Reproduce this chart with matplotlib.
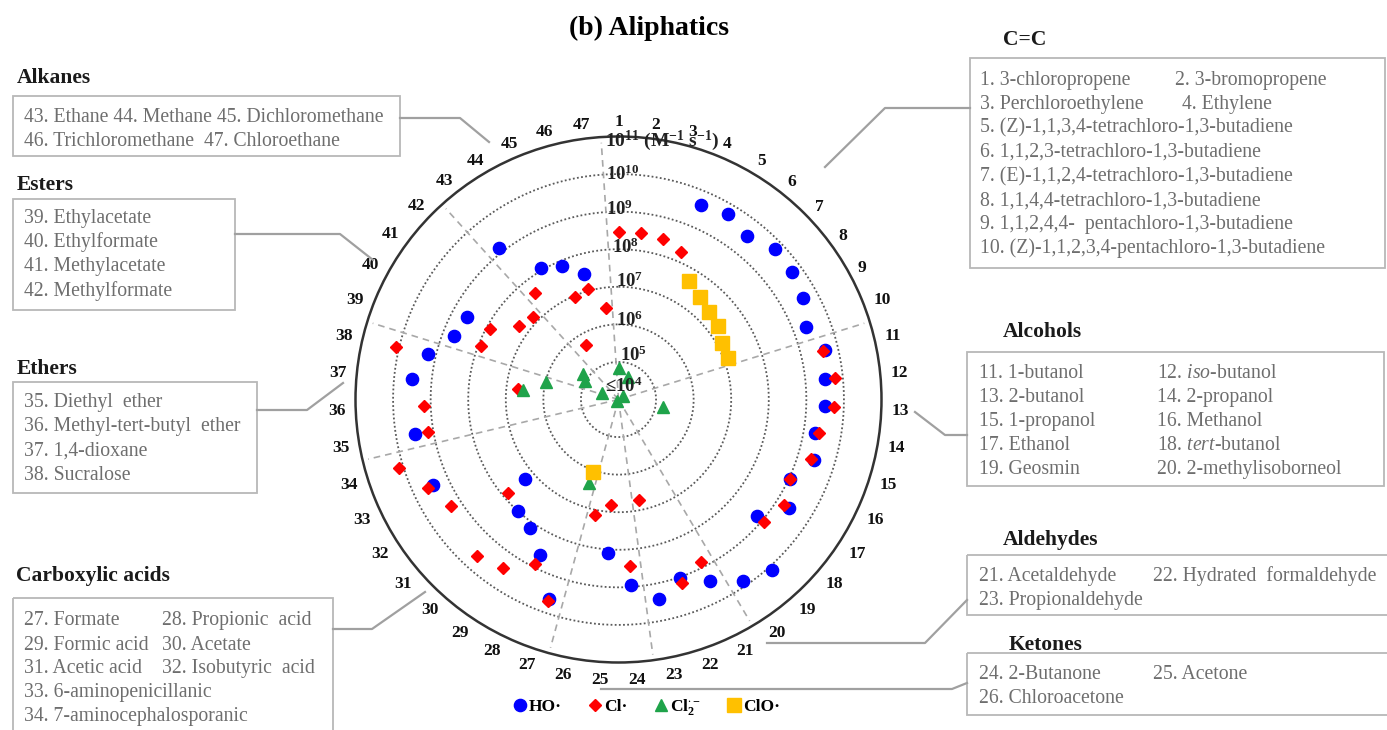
import numpy as np
import matplotlib
matplotlib.use('Agg')
import matplotlib.pyplot as plt
from matplotlib.lines import Line2D
from matplotlib.patches import Rectangle
from matplotlib.transforms import Affine2D, offset_copy

plt.rcParams['font.family'] = ['Liberation Serif', 'DejaVu Serif']
plt.rcParams['mathtext.fontset'] = 'custom'
plt.rcParams['mathtext.rm'] = 'Liberation Serif'
plt.rcParams['mathtext.bf'] = 'Liberation Serif:bold'
plt.rcParams['mathtext.it'] = 'Liberation Serif:italic'

# ---------------- data (log10 of k, M^-1 s^-1) ----------------
categories = [str(i) for i in range(1, 48)]

ho = [None, None, None, 9.62, 9.74, 9.53, 9.78, 9.73, 9.61, 9.34,
      9.65, 9.52, 9.50, 9.30, 9.46, 9.04, 9.38, 8.81, 10.11, 9.86,
      9.42, 9.03, 9.41, 8.94, 8.10, None, 9.62, 8.63, 8.15, 7.99,
      7.26, None, 9.43, None, 9.50, None, 9.52, 9.21, 8.69, 8.59,
      None, None, 9.14, 8.06, 7.87, 7.47, None]

cl = [8.46, 8.48, 8.44, 8.26, None, None, None, None, None, None,
      9.60, 9.80, 9.73, 9.40, 9.36, 9.03, 9.22, 9.07, None, None,
      8.85, 9.18, 6.73, 8.43, 6.81, 7.14, 9.69, 8.91, 9.45, 9.62,
      7.86, 9.28, 9.59, 10.12, 9.13, 9.18, 6.69, 10.08, 7.93, 7.90,
      7.30, 7.15, 7.60, 5.68, 6.95, 7.06, 6.47]

cl2_cats = [1, 4, 8, 14, 27, 29, 37, 38, 39, 40, 41]
cl2_vals = [4.83, 4.66, 4.15, 5.20, 6.36, 4.05, 6.55, 5.99, 4.48, 5.02, 5.16]

clo_cats = [5, 6, 7, 8, 9, 10, 27]
clo_vals = [7.68, 7.48, 7.34, 7.30, 7.15, 7.11, 6.04]

ring_values = [5, 6, 7, 8, 9, 10]
group_last = [10, 20, 23, 26, 34, 38, 42, 47]

series_names = ['HO·', 'Cl·', r'Cl$_{\mathbf{2}}^{\bullet\,\mathbf{-}}$', 'ClO·']

cc_lines = [("1. 3-chloropropene", "2. 3-bromopropene"),
            ("3. Perchloroethylene", "4. Ethylene"),
            ("5. (Z)-1,1,3,4-tetrachloro-1,3-butadiene", None),
            ("6. 1,1,2,3-tetrachloro-1,3-butadiene", None),
            ("7. (E)-1,1,2,4-tetrachloro-1,3-butadiene", None),
            ("8. 1,1,4,4-tetrachloro-1,3-butadiene", None),
            ("9. 1,1,2,4,4-  pentachloro-1,3-butadiene", None),
            ("10. (Z)-1,1,2,3,4-pentachloro-1,3-butadiene", None)]
alcohol_lines = [("11. 1-butanol", r"12. $\mathit{iso}$-butanol"),
                 ("13. 2-butanol", "14. 2-propanol"),
                 ("15. 1-propanol", "16. Methanol"),
                 ("17. Ethanol", r"18. $\mathit{tert}$-butanol"),
                 ("19. Geosmin", "20. 2-methylisoborneol")]
aldehyde_lines = [("21. Acetaldehyde", "22. Hydrated  formaldehyde"),
                  ("23. Propionaldehyde", None)]
ketone_lines = [("24. 2-Butanone", "25. Acetone"),
                ("26. Chloroacetone", None)]
alkane_lines = [("43. Ethane 44. Methane 45. Dichloromethane", None),
                ("46. Trichloromethane  47. Chloroethane", None)]
ester_lines = [("39. Ethylacetate", None), ("40. Ethylformate", None),
               ("41. Methylacetate", None), ("42. Methylformate", None)]
ether_lines = [("35. Diethyl  ether", None), ("36. Methyl-tert-butyl  ether", None),
               ("37. 1,4-dioxane", None), ("38. Sucralose", None)]
acid_lines = [("27. Formate", "28. Propionic  acid"),
              ("29. Formic acid", "30. Acetate"),
              ("31. Acetic acid", "32. Isobutyric  acid"),
              ("33. 6-aminopenicillanic", None),
              ("34. 7-aminocephalosporanic", None)]

# ---------------- figure ----------------
W, H = 1387, 730
fig = plt.figure(figsize=(W / 100, H / 100), dpi=100)
fig.patch.set_facecolor('white')
pix = Affine2D().scale(1 / W, -1 / H).translate(0, 1) + fig.transFigure

cx, cy, R = 618.5, 399.5, 263
ax = fig.add_axes([(cx - R) / W, 1 - (cy + R) / H, 2 * R / W, 2 * R / H],
                  projection='polar')
ax.set_theta_zero_location('N')
ax.set_theta_direction(-1)
rmin, rmax = 4, 11
ax.set_ylim(rmin, rmax)
ax.set_xticks([])
ax.set_yticks([])
ax.grid(False)
ax.spines['polar'].set_linewidth(1.8)
ax.spines['polar'].set_color('#333333')
px_per_unit = R / (rmax - rmin)

N = len(categories)
step = 2 * np.pi / N
tt = np.linspace(0, 2 * np.pi, 721)
for k in ring_values:
    ax.plot(tt, np.full_like(tt, k), color='#5a5a5a', lw=1.3,
            ls=(0, (1, 1.3)), zorder=1)
for last in group_last:
    th = (last - 0.5) * step
    ax.plot([th, th], [rmin, 10.85], color='#a8a8a8', lw=1.2,
            ls=(0, (4, 3)), zorder=1)


def full_series(vals):
    idx = [i for i, v in enumerate(vals) if v is not None]
    return np.array(idx) * step, np.array([vals[i] for i in idx])


styles = [dict(marker='o', ms=8.8, color='#0000ff'),
          dict(marker='D', ms=5.8, color='#ff0000'),
          dict(marker='^', ms=8.4, color='#1fa34a'),
          dict(marker='s', ms=9.5, color='#ffc000')]

t_ho, v_ho = full_series(ho)
t_cl, v_cl = full_series(cl)
t_c2 = (np.array(cl2_cats) - 1) * step
t_co = (np.array(clo_cats) - 1) * step
handles = []
for (t, v), st, z in zip([(t_ho, v_ho), (t_cl, v_cl), (t_c2, cl2_vals), (t_co, clo_vals)],
                         styles, [3, 4, 5, 6]):
    h, = ax.plot(t, v, ls='none', mec=st['color'], mfc=st['color'],
                 marker=st['marker'], ms=st['ms'], zorder=z, clip_on=False)
    handles.append(h)

# category labels: inner edge of each label at a fixed gap outside the circle
edge_px = 273.0
for i, lab in enumerate(categories):
    th = i * step
    half_w = 4.4 * len(lab)
    half_h = 6.0
    s, c = abs(np.sin(th)), abs(np.cos(th))
    ext = min(half_w / s if s > 1e-6 else 1e9, half_h / c if c > 1e-6 else 1e9)
    r_lab = rmin + (edge_px + ext) / px_per_unit
    ax.text(th, r_lab, lab, ha='center', va='center_baseline', fontsize=12.5,
            fontweight='bold', color='#111111')

# ring labels
ring_dx = [1, -2, -2, -7, -12, -12]
ring_dy = [7, 4, 5, 2, 2, 0]
for k, dx, dy in zip(ring_values, ring_dx, ring_dy):
    tr = offset_copy(ax.transData, fig=fig, x=dx, y=dy, units='dots')
    ax.text(0, k, r'$\mathbf{10^{%d}}$' % k, transform=tr, ha='left',
            va='center', fontsize=13.5, color='#222222', zorder=7)
tr = offset_copy(ax.transData, fig=fig, x=-13.5, y=13, units='dots')
ax.text(0, rmin, r'≤$\mathbf{10^{4}}$', transform=tr, ha='left', va='center',
        fontsize=13.5, fontweight='bold', color='#222222', zorder=7)
tr = offset_copy(ax.transData, fig=fig, x=-13.5, y=-4, units='dots')
ax.text(0, rmax, r'$\mathbf{10^{11}}$ (M$^{\mathbf{-1}}$ s$^{\mathbf{-1}}$)', transform=tr,
        ha='left', va='center', fontsize=14, fontweight='bold', color='#222222',
        zorder=7)

# title
fig.text(649, 28, '(b) Aliphatics', transform=pix, ha='center', va='center',
         fontsize=20, fontweight='bold')

# legend
fig.legend(handles, series_names, loc='center',
           bbox_to_anchor=(646 / W, 1 - 707 / H), ncol=4, frameon=False,
           handletextpad=0.05, columnspacing=1.5, handlelength=0.9,
           prop={'weight': 'bold', 'size': 12.5})

# ---------------- annotation boxes ----------------
BOX_EC = '#b8b8b8'
TXT_C = '#6e6e6e'
LINE_C = '#a0a0a0'


def header(x, y, s):
    fig.text(x, y + 7.3, s, transform=pix, ha='left', va='baseline',
             fontsize=15.5, fontweight='bold', color='#1a1a1a')


def box(x0, y0, x1, y1, lines, ys, x_text, x_col2):
    fig.add_artist(Rectangle((x0, y0), x1 - x0, y1 - y0, transform=pix,
                             fill=False, ec=BOX_EC, lw=1.3))
    for (a, b), y, xc2 in zip(lines, ys, x_col2):
        fig.text(x_text, y + 6.5, a, transform=pix, ha='left', va='baseline',
                 fontsize=14.2, color=TXT_C)
        if b is not None:
            fig.text(xc2, y + 6.5, b, transform=pix, ha='left', va='baseline',
                     fontsize=14.2, color=TXT_C)


def connector(pts):
    xs, ys = zip(*pts)
    fig.add_artist(Line2D(xs, ys, transform=pix, color=LINE_C, lw=1.6))


header(1003, 37.5, 'C=C')
box(970, 58, 1385, 268, cc_lines, [78.3 + 24.05 * i for i in range(8)], 980,
    [1175, 1182] + [0] * 6)
connector([(825, 167), (885, 108), (970, 108)])

header(1003, 330, 'Alcohols')
box(967, 352, 1384, 486, alcohol_lines, [371.7 + 24 * i for i in range(5)],
    979.3, [1156.7] * 5)
connector([(915, 412), (945, 435), (967, 435)])

header(1003, 538, 'Aldehydes')
box(967, 555, 1392, 615, aldehyde_lines, [575, 598.3], 979.3, [1153.3] * 2)
connector([(767, 643), (925, 643), (967, 600)])

header(1009, 643, 'Ketones')
box(967, 653, 1392, 715, ketone_lines, [672.7, 696.7], 979.3, [1153.3] * 2)
connector([(601, 689), (952, 689), (967, 683)])

header(16.7, 75.5, 'Alkanes')
box(13, 96, 400, 156, alkane_lines, [115, 139], 24, [0, 0])
connector([(400, 118), (460, 118), (489, 142)])

header(16.7, 183, 'Esters')
box(13, 199, 235, 310, ester_lines, [216.7, 241, 265, 289.3], 24, [0] * 4)
connector([(235, 234), (340, 234), (373, 260)])

header(16.7, 367, 'Ethers')
box(13, 382, 257, 493, ether_lines, [400.7, 425, 449.3, 473.3], 24, [0] * 4)
connector([(257, 410), (307, 410), (343, 383)])

header(16, 573.5, 'Carboxylic acids')
box(13, 598, 333, 745, acid_lines, [618.3, 643.3, 666.7, 690.7, 714], 24,
    [161.7] * 5)
connector([(333, 629), (372, 629), (425, 592)])

fig.savefig('out.png', dpi=100)
